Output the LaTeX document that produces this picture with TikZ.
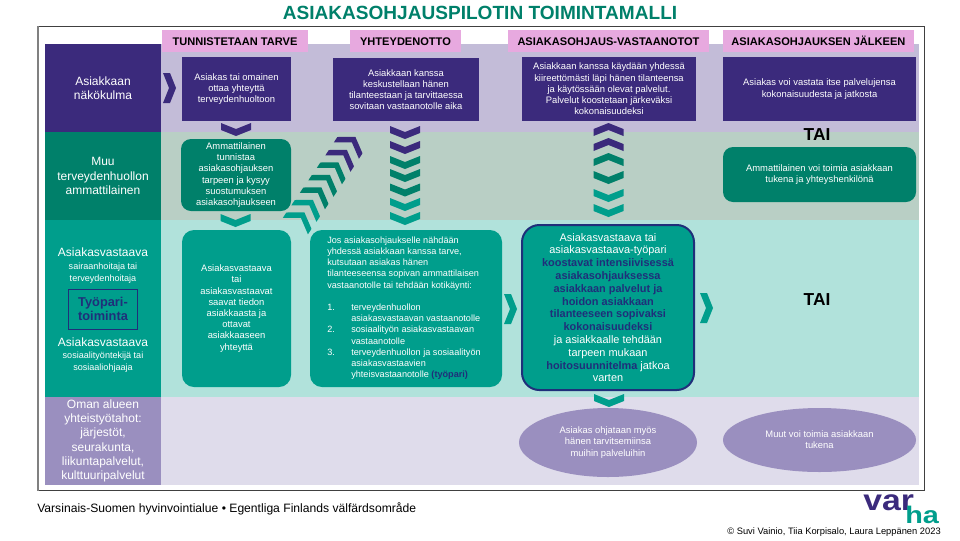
\documentclass[tikz,border=0pt]{standalone}
\usepackage{fontspec}
\setmainfont{Liberation Sans}
\usetikzlibrary{shapes.geometric}
\definecolor{purp}{HTML}{3B2A7C}
\definecolor{purpbg}{HTML}{C3BCD8}
\definecolor{lilac}{HTML}{9A8FBF}
\definecolor{lilacbg}{HTML}{DFDCEB}
\definecolor{dteal}{HTML}{00806A}
\definecolor{dtealbg}{HTML}{B9CFC5}
\definecolor{teal1}{HTML}{009E8C}
\definecolor{tealbg}{HTML}{B1E2DB}
\definecolor{navy}{HTML}{1F2F7A}
\definecolor{pink}{HTML}{E7A9DF}
\begin{document}
\begin{tikzpicture}[x=.75pt,y=-.75pt]
\tikzset{block/.style = {shape=rectangle,inner sep=0pt,text=white,align=center,font=\fontsize{7.05}{8.4}\selectfont}}
\tikzset{rowhead/.style = {block,font=\fontsize{9}{10.7}\selectfont}}
\tikzset{stage/.style = {block,fill=pink,text=black,minimum height=16.5pt,text height=6pt,text depth=0pt,font=\bfseries\fontsize{8.3}{9}\selectfont}}
\tikzset{oval/.style = {block,shape=ellipse,fill=lilac}}
\tikzset{chev/.pic = {\fill[pic actions] (-15,-6.5) -- (0,-.5) -- (15,-6.5) -- (15,.5) -- (0,6.5) -- (-15,.5) -- cycle;}}
\tikzset{chevd/.pic = {\fill[pic actions] (-15,-8.5) -- (0,1.5) -- (15,-8.5) -- (15,-2) -- (0,8) -- (-15,-2) -- cycle;}}
\newcommand{\nv}[1]{{\color{navy}\bfseries #1}}
\useasboundingbox (0,0) rectangle (960,540);
\node[anchor=center,text=dteal,font=\bfseries\fontsize{14.3}{16}\selectfont] (title) at (480,12.5) {ASIAKASOHJAUSPILOTIN TOIMINTAMALLI};
\node[draw=black!75,line width=.9pt,fill=white,inner sep=0pt,minimum width=664pt,minimum height=348pt] (frame) at (481.5,258.5) {};
\draw[gray,line width=1.5pt] (frame.north west) -- (frame.south west);
% rows
\node[block,fill=purpbg,minimum width=568.5pt,minimum height=66pt] (bg1) at (539.5,88) {};
\node[block,fill=dtealbg,minimum width=568.5pt,minimum height=66pt] (bg2) at (539.5,176) {};
\node[block,fill=tealbg,minimum width=568.5pt,minimum height=132.75pt] (bg3) at (539.5,308.5) {};
\node[block,fill=lilacbg,minimum width=568.5pt,minimum height=66pt] (bg4) at (539.5,441) {};
\node[rowhead,fill=purp,minimum width=87pt,minimum height=66pt] (head1) at (103,88) {Asiakkaan\\näkökulma};
\node[rowhead,fill=dteal,minimum width=87pt,minimum height=66pt] (head2) at (103,176) {Muu\\terveydenhuollon\\ammattilainen};
\node[rowhead,fill=teal1,minimum width=87pt,minimum height=132.75pt] (head3) at (103,308.5) {};
\node[rowhead,fill=lilac,minimum width=87pt,minimum height=66pt] (head4) at (103,441) {Oman alueen\\yhteistyötahot:\\järjestöt,\\seurakunta,\\liikuntapalvelut,\\kulttuuripalvelut};
\node[block,font=\fontsize{9}{9}\selectfont] (nurse) at (103,265.5) {Asiakasvastaava\\[1pt]{\fontsize{6.8}{9}\selectfont sairaanhoitaja tai}\\[0pt]{\fontsize{6.8}{9}\selectfont terveydenhoitaja}};
\node[block,draw=navy,text=navy,line width=.6pt,minimum width=52pt,minimum height=30pt,font=\bfseries\fontsize{9.6}{11}\selectfont] (pair) at (103,309) {Työpari-\\toiminta};
\node[block,font=\fontsize{9}{9}\selectfont] (social) at (103,355) {Asiakasvastaava\\[.5pt]{\fontsize{6.8}{9}\selectfont sosiaalityöntekijä tai}\\[0pt]{\fontsize{6.8}{9}\selectfont sosiaaliohjaaja}};
% stages
\node[stage,minimum width=109.5pt] (need) at (235,41) {TUNNISTETAAN TARVE};
\node[stage,minimum width=83.25pt] (contact) at (405.5,41) {YHTEYDENOTTO};
\node[stage,minimum width=150.75pt] (visit) at (608.5,41) {ASIAKASOHJAUS-VASTAANOTOT};
\node[stage,minimum width=143.25pt] (after) at (818.5,41) {ASIAKASOHJAUKSEN JÄLKEEN};
% customer view
\node[block,fill=purp,minimum width=81.75pt,minimum height=48pt] (cust1) at (236.5,89) {Asiakas tai omainen\\ottaa yhteyttä\\terveydenhuoltoon};
\node[block,fill=purp,minimum width=109.5pt,minimum height=47.25pt] (cust2) at (406,89.5) {Asiakkaan kanssa\\keskustellaan hänen\\tilanteestaan ja tarvittaessa\\sovitaan vastaanotolle aika};
\node[block,fill=purp,minimum width=130.5pt,minimum height=48pt] (cust3) at (609,89) {Asiakkaan kanssa käydään yhdessä\\kiireettömästi läpi hänen tilanteensa\\ja käytössään olevat palvelut.\\Palvelut koostetaan järkeväksi\\kokonaisuudeksi};
\node[block,fill=purp,minimum width=144.75pt,minimum height=48pt] (cust4) at (819.5,89) {Asiakas voi vastata itse palvelujensa\\kokonaisuudesta ja jatkosta};
% other professional
\node[block,fill=dteal,rounded corners=7.5pt,minimum width=82.5pt,minimum height=54pt] (prof1) at (236,175) {Ammattilainen\\tunnistaa\\asiakasohjauksen\\tarpeen ja kysyy\\suostumuksen\\asiakasohjaukseen};
\node[block,fill=dteal,rounded corners=7.5pt,minimum width=144.75pt,minimum height=41.25pt] (prof2) at (819.5,174.5) {Ammattilainen voi toimia asiakkaan\\tukena ja yhteyshenkilönä};
% customer manager
\node[block,fill=teal1,rounded corners=9pt,minimum width=81.75pt,minimum height=117.75pt] (mgr1) at (236.5,308.5) {Asiakasvastaava\\tai\\asiakasvastaavat\\saavat tiedon\\asiakkaasta ja\\ottavat\\asiakkaaseen\\yhteyttä};
\node[block,fill=teal1,rounded corners=9pt,minimum width=144pt,minimum height=117.75pt] (mgr2) at (406,308.5) {};
\node[block,anchor=north west,align=left,font=\fontsize{6.85}{8.4}\selectfont] (mgrtext) at (327,236.5) {Jos asiakasohjaukselle nähdään\\yhdessä asiakkaan kanssa tarve,\\kutsutaan asiakas hänen\\tilanteeseensa sopivan ammattilaisen\\vastaanotolle tai tehdään kotikäynti:\\[8.4pt]\makebox[18pt][l]{1.}terveydenhuollon\\\makebox[18pt]{}asiakasvastaavan vastaanotolle\\\makebox[18pt][l]{2.}sosiaalityön asiakasvastaavan\\\makebox[18pt]{}vastaanotolle\\\makebox[18pt][l]{3.}terveydenhuollon ja sosiaalityön\\\makebox[18pt]{}asiakasvastaavien\\\makebox[18pt]{}yhteisvastaanotolle \nv{(työpari)}};
\node[block,fill=teal1,draw=navy,line width=1.5pt,rounded corners=13pt,minimum width=129pt,minimum height=123.75pt,font=\fontsize{8.2}{9.6}\selectfont] (mgr3) at (608,307.5) {Asiakasvastaava tai\\asiakasvastaava-työpari\\\nv{koostavat intensiivisessä}\\\nv{asiakasohjauksessa}\\\nv{asiakkaan palvelut ja}\\\nv{hoidon asiakkaan}\\\nv{tilanteeseen sopivaksi}\\\nv{kokonaisuudeksi}\\ja asiakkaalle tehdään\\tarpeen mukaan\\\nv{hoitosuunnitelma} jatkoa\\varten};
% partners
\node[oval,minimum width=133.5pt,minimum height=51.75pt] (part1) at (608,442.5) {Asiakas ohjataan myös\\hänen tarvitsemiinsa\\muihin palveluihin};
\node[oval,minimum width=144.75pt,minimum height=48pt] (part2) at (819.5,440) {Muut voi toimia asiakkaan\\tukena};
\node[font=\bfseries\fontsize{13}{14}\selectfont,inner sep=0pt] (or1) at (817,135) {TAI};
\node[font=\bfseries\fontsize{13}{14}\selectfont,inner sep=0pt] (or2) at (817,300) {TAI};
% chevrons
\pic[fill=purp,rotate=90] at (169.5,88) {chev};
\pic[fill=teal1,rotate=90] at (510.5,309) {chev};
\pic[fill=teal1,rotate=90] at (706.5,308) {chev};
\pic[fill=purp] at (236,129.5) {chev};
\pic[fill=teal1] at (235.5,220.5) {chev};
\pic[fill=teal1] at (609,400.5) {chev};
\pic[fill=purp] at (405,132.5) {chev};
\pic[fill=purp] at (405,147.5) {chev};
\pic[fill=dteal] at (405,162.5) {chev};
\pic[fill=dteal] at (405,175.5) {chev};
\pic[fill=dteal] at (405,190) {chev};
\pic[fill=teal1] at (405,204.5) {chev};
\pic[fill=teal1] at (405,218.5) {chev};
\pic[fill=purp,rotate=180] at (608.5,129.5) {chev};
\pic[fill=purp,rotate=180] at (608.5,144.5) {chev};
\pic[fill=dteal,rotate=180] at (608.5,159.5) {chev};
\pic[fill=dteal] at (608.5,177.5) {chev};
\pic[fill=teal1] at (608.5,195.5) {chev};
\pic[fill=teal1] at (608.5,210.5) {chev};
\pic[fill=purp,rotate=147] at (351,143.5) {chevd};
\pic[fill=purp,rotate=147] at (342.5,156.5) {chevd};
\pic[fill=dteal,rotate=147] at (334,169) {chevd};
\pic[fill=dteal,rotate=147] at (325.5,181.5) {chevd};
\pic[fill=dteal,rotate=147] at (317,194) {chevd};
\pic[fill=teal1,rotate=147] at (308.5,206.5) {chevd};
\pic[fill=teal1,rotate=147] at (300,219) {chevd};
% footer
\node[anchor=west,inner sep=0pt,font=\fontsize{9.1}{10}\selectfont] (region) at (37,508.5) {Varsinais-Suomen hyvinvointialue • Egentliga Finlands välfärdsområde};
\node[anchor=east,inner sep=0pt,font=\fontsize{7}{8}\selectfont] (rights) at (941,532) {© Suvi Vainio, Tiia Korpisalo, Laura Leppänen 2023};
\node[anchor=base west,inner sep=0pt,text=purp,font=\bfseries\fontsize{22}{22}\selectfont] (logo1) at (863,510) {\scalebox{1.15}[1]{var}};
\node[anchor=base west,inner sep=0pt,text=teal1,font=\bfseries\fontsize{18}{18}\selectfont] (logo2) at (905,523) {\scalebox{1.2}[1]{ha}};
\end{tikzpicture}
\end{document}
